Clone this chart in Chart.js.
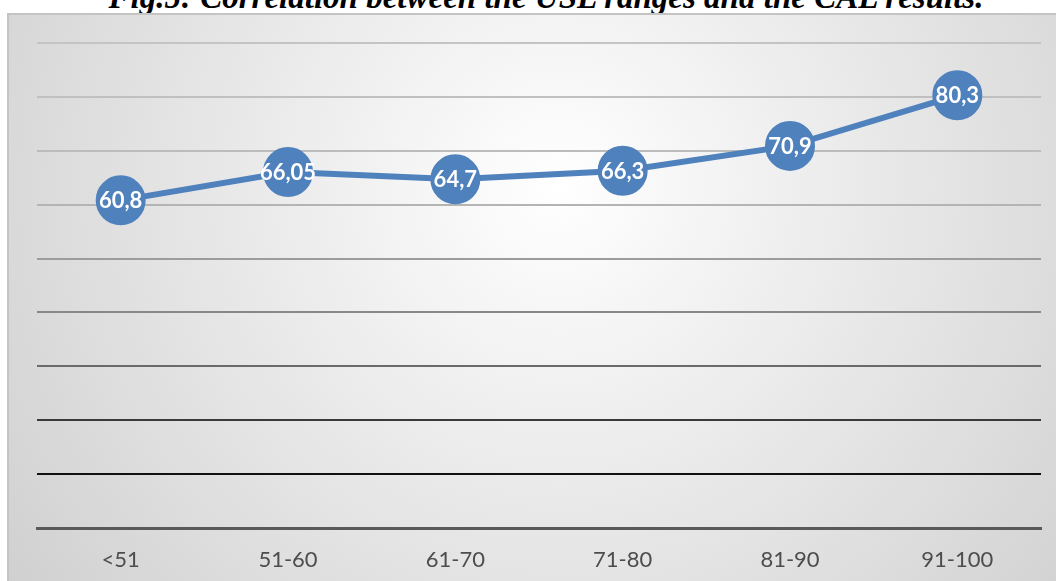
<!DOCTYPE html>
<html>
<head>
<meta charset="utf-8">
<script src="https://cdn.jsdelivr.net/npm/chart.js@4"></script>
<style>
  html, body { margin: 0; padding: 0; width: 1056px; height: 581px; overflow: hidden; background: #fff; }
  #title {
    position: absolute; left: 0; width: 1092px; top: -19px; text-align: center;
    font: italic bold 33px "Liberation Serif", "DejaVu Serif", serif; line-height: 33px; color: #000;
    white-space: nowrap;
  }
  #box {
    position: absolute; left: 7px; top: 13px; width: 1060px; height: 580px;
    border: 2px solid #c4c4c4; box-sizing: border-box;
    background: radial-gradient(circle farthest-corner at 52% 30%, #ffffff 0%, #f3f3f3 25%, #d0d0d0 100%);
  }
  #wrap { position: absolute; left: 0; top: 0; width: 1056px; height: 581px; }
</style>
</head>
<body>
<div id="title">Fig.5: Correlation between the USL ranges and the CAL results.</div>
<div id="box"></div>
<div id="wrap"><canvas id="c"></canvas></div>
<script>
// USL ranges and CAL results
const categories = ['<51', '51-60', '61-70', '71-80', '81-90', '91-100'];
const calValues = [60.8, 66.05, 64.7, 66.3, 70.9, 80.3];
const yTicks = [0, 10, 20, 30, 40, 50, 60, 70, 80, 90];
// gridline shade, bottom (0) to top (90)
const gridShades = ['#595959', '#111111', '#3a3a3a', '#6a6a6a', '#888888', '#9c9c9c', '#b4b4b4', '#bcbcbc', '#c0c0c0', '#c4c4c4'];

const blue = '#4f81bd';

// white numbers on the circles
const pointLabels = {
  id: 'pointLabels',
  afterDatasetsDraw(chart) {
    const ctx = chart.ctx;
    const meta = chart.getDatasetMeta(0);
    ctx.save();
    ctx.font = 'bold 22px Lato, "Open Sans", sans-serif';
    ctx.fillStyle = '#ffffff';
    ctx.textAlign = 'center';
    ctx.textBaseline = 'middle';
    meta.data.forEach((pt, i) => {
      ctx.fillText(String(calValues[i]).replace('.', ','), pt.x, pt.y + 1);
    });
    ctx.restore();
  }
};

new Chart(document.getElementById('c'), {
  type: 'line',
  data: {
    labels: categories,
    datasets: [{
      data: calValues,
      borderColor: blue,
      borderWidth: 6,
      backgroundColor: blue,
      pointBackgroundColor: blue,
      pointBorderColor: blue,
      pointRadius: 22,
      pointHoverRadius: 22,
      tension: 0
    }]
  },
  options: {
    responsive: true,
    maintainAspectRatio: false,
    animation: false,
    events: [],
    layout: { autoPadding: false, padding: { left: 37, right: 15, top: 43, bottom: 0 } },
    plugins: { legend: { display: false }, tooltip: { enabled: false } },
    scales: {
      x: {
        offset: true,
        grid: { display: false },
        border: { color: '#595959', width: 3 },
        ticks: {
          color: '#4d4d4d', padding: 11,
          font: { family: 'Lato, "Open Sans", sans-serif', size: 22 }
        },
        afterFit: s => { s.height = 53; }
      },
      y: {
        min: 0, max: 90,
        afterBuildTicks: s => { s.ticks = yTicks.map(v => ({ value: v })); },
        ticks: { display: false },
        border: { display: false },
        grid: {
          color: c => gridShades[yTicks.indexOf(c.tick.value)] || '#c0c0c0',
          lineWidth: 2,
          drawTicks: false
        },
        afterFit: s => { s.width = 0; }
      }
    }
  },
  plugins: [pointLabels]
});
</script>
</body>
</html>
